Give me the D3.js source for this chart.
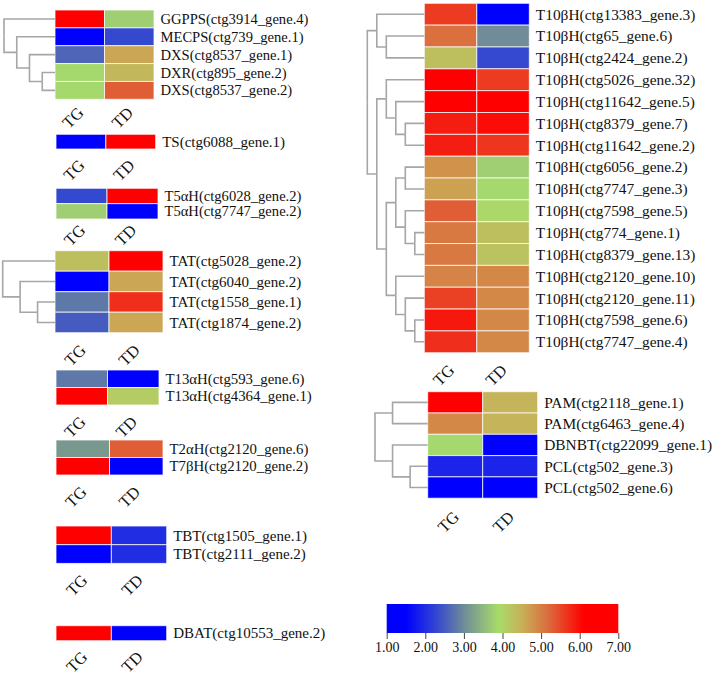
<!DOCTYPE html>
<html>
<head>
<meta charset="utf-8">
<script src="https://cdn.jsdelivr.net/npm/d3@7"></script>
<style>
body { margin: 0; background: #fff; }
svg { display: block; font-family: "Liberation Serif", "Times New Roman", serif; }
</style>
</head>
<body>
<svg id="chart" width="724" height="676"></svg>
<script>
(function() {
"use strict";

var samples = ["TG", "TD"];

// MEP pathway
var mepGenes = ["GGPPS(ctg3914_gene.4)", "MECPS(ctg739_gene.1)", "DXS(ctg8537_gene.1)", "DXR(ctg895_gene.2)", "DXS(ctg8537_gene.2)"];
var mepTG = [6.5, 1.2, 2.6, 3.85, 3.85];
var mepTD = [3.75, 2.3, 4.6, 4.4, 5.3];
var mepTree = [0, [1, [2, [3, 4]]]];

var tsGenes = ["TS(ctg6088_gene.1)"];
var tsTG = [1.2];
var tsTD = [6.6];

var t5Genes = ["T5\u03b1H(ctg6028_gene.2)", "T5\u03b1H(ctg7747_gene.2)"];
var t5TG = [2.3, 3.75];
var t5TD = [6.5, 1.2];

var tatGenes = ["TAT(ctg5028_gene.2)", "TAT(ctg6040_gene.2)", "TAT(ctg1558_gene.1)", "TAT(ctg1874_gene.2)"];
var tatTG = [4.3, 1.1, 2.8, 2.5];
var tatTD = [6.6, 4.6, 5.7, 4.6];
var tatTree = [0, [1, [2, 3]]];

var t13Genes = ["T13\u03b1H(ctg593_gene.6)", "T13\u03b1H(ctg4364_gene.1)"];
var t13TG = [2.8, 6.6];
var t13TD = [1.2, 4.1];

var t2Genes = ["T2\u03b1H(ctg2120_gene.6)", "T7\u03b2H(ctg2120_gene.2)"];
var t2TG = [3.15, 6.6];
var t2TD = [5.3, 1.2];

var tbtGenes = ["TBT(ctg1505_gene.1)", "TBT(ctg2111_gene.2)"];
var tbtTG = [6.6, 1.2];
var tbtTD = [2.0, 2.0];

var dbatGenes = ["DBAT(ctg10553_gene.2)"];
var dbatTG = [6.6];
var dbatTD = [1.2];

var t10Genes = [
  "T10\u03b2H(ctg13383_gene.3)", "T10\u03b2H(ctg65_gene.6)", "T10\u03b2H(ctg2424_gene.2)",
  "T10\u03b2H(ctg5026_gene.32)", "T10\u03b2H(ctg11642_gene.5)", "T10\u03b2H(ctg8379_gene.7)",
  "T10\u03b2H(ctg11642_gene.2)", "T10\u03b2H(ctg6056_gene.2)", "T10\u03b2H(ctg7747_gene.3)",
  "T10\u03b2H(ctg7598_gene.5)", "T10\u03b2H(ctg774_gene.1)", "T10\u03b2H(ctg8379_gene.13)",
  "T10\u03b2H(ctg2120_gene.10)", "T10\u03b2H(ctg2120_gene.11)", "T10\u03b2H(ctg7598_gene.6)",
  "T10\u03b2H(ctg7747_gene.4)"
];
var t10TG = [5.6, 5.15, 4.3, 6.5, 6.2, 5.85, 5.85, 4.8, 4.65, 5.3, 5.05, 5.05, 4.95, 5.55, 5.9, 5.7];
var t10TD = [1.2, 3.0, 2.3, 5.6, 6.5, 6.0, 5.65, 3.75, 3.85, 3.95, 4.3, 4.25, 4.9, 4.9, 4.9, 4.9];
var t10Tree = [[0, [1, 2]], [[3, [4, [5, 6]]], [[[7, 8], [9, [10, 11]]], [12, [13, [14, 15]]]]]];

var pamGenes = ["PAM(ctg2118_gene.1)", "PAM(ctg6463_gene.4)", "DBNBT(ctg22099_gene.1)", "PCL(ctg502_gene.3)", "PCL(ctg502_gene.6)"];
var pamTG = [6.5, 4.9, 3.85, 1.9, 1.2];
var pamTD = [4.45, 4.45, 1.1, 1.9, 1.2];
var pamTree = [[0, 1], [2, [3, 4]]];

// colour key
var keyStops = [1, 1.5, 2.3, 3.0, 3.9, 4.5, 5.2, 6.1, 7];
var keyColors = ["#0000ff", "#0000ff", "#3548d0", "#6f8c98", "#a8dc6a", "#c8b058", "#dc6a3c", "#ff0000", "#ff0000"];
var keyTicks = [1, 2, 3, 4, 5, 6, 7];

var color = d3.scaleLinear().domain(keyStops).range(keyColors).interpolate(d3.interpolateRgb);

var blocks = [
  {genes: mepGenes, tg: mepTG, td: mepTD, tree: mepTree, x: 55, y: 10, w: 99, rowH: 17.86, rootX: 4, capY: 117.5, fs: 14.6},
  {genes: tsGenes, tg: tsTG, td: tsTD, x: 56, y: 134.3, w: 99.7, rowH: 14.7, capY: 170, fs: 15},
  {genes: t5Genes, tg: t5TG, td: t5TD, x: 56, y: 188.3, w: 102, rowH: 15.35, capY: 235, fs: 14.6},
  {genes: tatGenes, tg: tatTG, td: tatTD, tree: tatTree, x: 55, y: 250.7, w: 108, rowH: 20.5, rootX: 2.7, capY: 355, fs: 15},
  {genes: t13Genes, tg: t13TG, td: t13TD, x: 56, y: 370, w: 103, rowH: 17.5, capY: 426.7, fs: 14.8},
  {genes: t2Genes, tg: t2TG, td: t2TD, x: 56, y: 440, w: 107, rowH: 17.5, capY: 496.7, fs: 14.8},
  {genes: tbtGenes, tg: tbtTG, td: tbtTD, x: 56, y: 526, w: 110.7, rowH: 18.7, capY: 585, fs: 15},
  {genes: dbatGenes, tg: dbatTG, td: dbatTD, x: 56, y: 625.7, w: 110.7, rowH: 15, capY: 661.7, fs: 15},
  {genes: t10Genes, tg: t10TG, td: t10TD, tree: t10Tree, x: 424.3, y: 3.3, w: 105, rowH: 21.84, rootX: 367.3, capY: 375, fs: 15.4},
  {genes: pamGenes, tg: pamTG, td: pamTD, tree: pamTree, x: 427.7, y: 391.7, w: 110, rowH: 21.3, rootX: 375, capY: 521.7, fs: 15.4}
];

var svg = d3.select("#chart");

blocks.forEach(drawBlock);
drawKey();

function drawBlock(b) {
  var g = svg.append("g");
  var n = b.genes.length;

  var x = d3.scaleBand().domain(samples).range([b.x, b.x + b.w]);
  var y = d3.scaleBand().domain(d3.range(n)).range([b.y, b.y + n * b.rowH]);

  var cells = [];
  b.genes.forEach(function(name, i) {
    cells.push({row: i, sample: "TG", v: b.tg[i]});
    cells.push({row: i, sample: "TD", v: b.td[i]});
  });

  g.selectAll("rect.cell")
    .data(cells)
    .enter()
    .append("rect")
    .attr("class", "cell")
    .attr("x", function(d) { return x(d.sample); })
    .attr("y", function(d) { return y(d.row); })
    .attr("width", x.bandwidth())
    .attr("height", y.bandwidth())
    .attr("fill", function(d) { return color(d.v); })
    .attr("stroke", "rgba(255,255,255,0.75)")
    .attr("stroke-width", 1);

  g.selectAll("text.gene")
    .data(b.genes)
    .enter()
    .append("text")
    .attr("class", "gene")
    .attr("x", b.x + b.w + 6.5)
    .attr("y", function(d, i) { return y(i) + y.bandwidth() / 2; })
    .attr("dy", "0.35em")
    .attr("font-size", b.fs)
    .attr("fill", "#111")
    .text(function(d) { return d; });

  // column captions, tilted 45 degrees
  g.selectAll("text.sample")
    .data(samples)
    .enter()
    .append("text")
    .attr("class", "sample")
    .attr("transform", function(d) {
      return "translate(" + (x(d) + x.bandwidth() / 2 - 7) + "," + b.capY + ") rotate(-45)";
    })
    .attr("text-anchor", "middle")
    .attr("dy", "0.35em")
    .attr("font-size", 16.5)
    .attr("fill", "#111")
    .text(function(d) { return d; });

  if (b.tree) drawTree(g, b, y);
}

function drawTree(g, b, y) {
  var root = d3.hierarchy(b.tree, function(d) { return Array.isArray(d) ? d : null; });
  var depthX = d3.scaleLinear().domain([0, root.height]).range([b.rootX, b.x]);

  root.eachAfter(function(node) {
    if (node.children) {
      node.px = depthX(node.depth);
      node.py = (node.children[0].py + node.children[node.children.length - 1].py) / 2;
    } else {
      node.px = b.x;
      node.py = y(node.data) + y.bandwidth() / 2;
    }
  });

  g.selectAll("path.link")
    .data(root.links())
    .enter()
    .append("path")
    .attr("class", "link")
    .attr("d", function(l) {
      return "M" + l.source.px + "," + l.source.py + "V" + l.target.py + "H" + l.target.px;
    })
    .attr("fill", "none")
    .attr("stroke", "#a6a6a6")
    .attr("stroke-width", 1.6);
}

function drawKey() {
  var kx = d3.scaleLinear().domain([1, 7]).range([386.7, 618.3]);
  var top = 604, h = 29;

  var grad = svg.append("defs")
    .append("linearGradient")
    .attr("id", "keyGrad")
    .attr("x1", "0%").attr("x2", "100%")
    .attr("y1", "0%").attr("y2", "0%");

  grad.selectAll("stop")
    .data(d3.range(0, 61))
    .enter()
    .append("stop")
    .attr("offset", function(i) { return (i / 60 * 100) + "%"; })
    .attr("stop-color", function(i) { return color(1 + i / 10); });

  svg.append("rect")
    .attr("x", kx(1))
    .attr("y", top)
    .attr("width", kx(7) - kx(1))
    .attr("height", h)
    .attr("fill", "url(#keyGrad)");

  var axis = svg.append("g")
    .attr("transform", "translate(0," + (top + h) + ")")
    .call(d3.axisBottom(kx).tickValues(keyTicks).tickFormat(d3.format(".2f")).tickSize(6).tickPadding(3));

  axis.select(".domain").remove();
  axis.selectAll(".tick line").attr("stroke", "#444");
  axis.selectAll("text")
    .attr("font-family", "Liberation Serif, Times New Roman, serif")
    .attr("font-size", 14)
    .attr("fill", "#111");
}

})();
</script>
</body>
</html>
